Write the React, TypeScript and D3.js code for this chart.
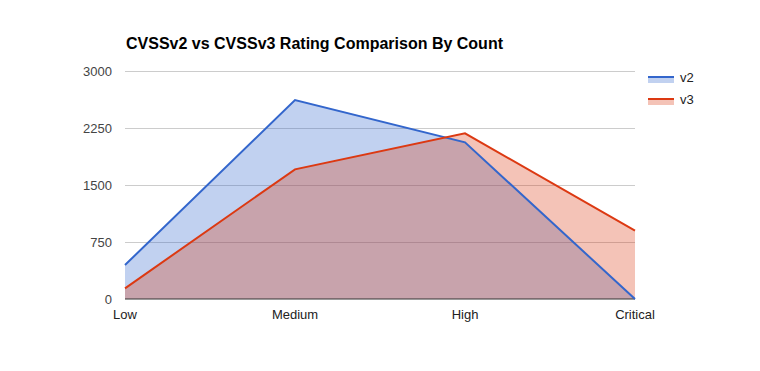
import { useEffect, useRef } from 'react';
import * as d3 from 'd3';

const categories = ['Low', 'Medium', 'High', 'Critical'];
const v2Values = [447, 2618, 2062, 0];
const v3Values = [140, 1706, 2180, 899];
const yTicks = [0, 750, 1500, 2250, 3000];
const seriesNames = ['v2', 'v3'];
const seriesColors = ['#3366cc', '#dc3912'];

export default function App() {
  const ref = useRef<SVGSVGElement | null>(null);

  useEffect(() => {
    if (!ref.current) return;
    const width = 760;
    const height = 371;
    const margin = { top: 71, right: 126, bottom: 72, left: 125 };

    const svg = d3.select(ref.current);
    svg.selectAll('*').remove();
    svg.attr('font-family', 'Arial, "Liberation Sans", sans-serif');

    const x = d3
      .scalePoint<string>()
      .domain(categories)
      .range([margin.left, width - margin.right + 1]);
    const y = d3.scaleLinear().domain([0, 3000]).range([height - margin.bottom, margin.top]);

    // title
    svg
      .append('text')
      .attr('x', 126)
      .attr('y', 48.5)
      .attr('font-size', 16)
      .attr('font-weight', 'bold')
      .attr('fill', '#000')
      .text('CVSSv2 vs CVSSv3 Rating Comparison By Count');

    // gridlines + y labels
    const grid = svg.append('g');
    grid
      .selectAll('line')
      .data(yTicks.filter((t) => t > 0))
      .join('line')
      .attr('x1', margin.left)
      .attr('x2', width - margin.right + 1)
      .attr('y1', (d) => Math.round(y(d)) + 0.5)
      .attr('y2', (d) => Math.round(y(d)) + 0.5)
      .attr('stroke', '#cccccc')
      .attr('stroke-width', 1);

    grid
      .selectAll('text')
      .data(yTicks)
      .join('text')
      .attr('x', 112)
      .attr('y', (d) => y(d) + 4.5)
      .attr('text-anchor', 'end')
      .attr('font-size', 13)
      .attr('fill', '#444')
      .text((d) => d);

    const series = [v2Values, v3Values];
    const area = d3
      .area<number>()
      .x((_, i) => x(categories[i]) as number)
      .y0(y(0))
      .y1((d) => y(d));
    const line = d3
      .line<number>()
      .x((_, i) => x(categories[i]) as number)
      .y((d) => y(d));

    series.forEach((vals, i) => {
      svg
        .append('path')
        .datum(vals)
        .attr('d', area)
        .attr('fill', seriesColors[i])
        .attr('fill-opacity', 0.3);
    });

    // baseline
    svg
      .append('line')
      .attr('x1', margin.left)
      .attr('x2', width - margin.right + 1)
      .attr('y1', y(0))
      .attr('y2', y(0))
      .attr('stroke', '#333')
      .attr('stroke-width', 1);

    series.forEach((vals, i) => {
      svg
        .append('path')
        .datum(vals)
        .attr('d', line)
        .attr('fill', 'none')
        .attr('stroke', seriesColors[i])
        .attr('stroke-width', 2);
    });

    // x labels
    svg
      .append('g')
      .selectAll('text')
      .data(categories)
      .join('text')
      .attr('x', (d) => x(d) as number)
      .attr('y', 319)
      .attr('text-anchor', 'middle')
      .attr('font-size', 13)
      .attr('fill', '#222')
      .text((d) => d);

    // legend
    const legend = svg.append('g');
    seriesNames.forEach((name, i) => {
      const ly = 77 + i * 22;
      legend
        .append('rect')
        .attr('x', 648)
        .attr('y', ly)
        .attr('width', 26)
        .attr('height', 6)
        .attr('fill', seriesColors[i])
        .attr('fill-opacity', 0.3);
      legend
        .append('line')
        .attr('x1', 648)
        .attr('x2', 674)
        .attr('y1', ly)
        .attr('y2', ly)
        .attr('stroke', seriesColors[i])
        .attr('stroke-width', 2);
      legend
        .append('text')
        .attr('x', 680)
        .attr('y', ly + 5)
        .attr('font-size', 13)
        .attr('fill', '#222')
        .text(name);
    });
  }, []);

  return (
    <div style={{ position: 'absolute', left: 0, top: 0, background: '#fff' }}>
      <svg ref={ref} width={760} height={371} style={{ display: 'block' }} />
    </div>
  );
}
